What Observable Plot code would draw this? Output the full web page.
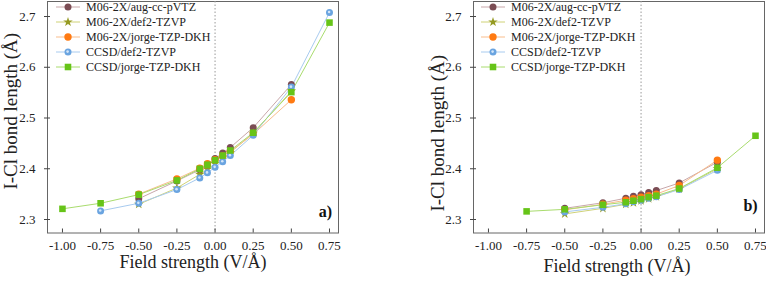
<!DOCTYPE html>
<html>
<head>
<meta charset="utf-8">
<script src="https://cdn.jsdelivr.net/npm/d3@7"></script>
<script src="https://cdn.jsdelivr.net/npm/@observablehq/plot@0.6"></script>
<style>
  body { margin: 0; background: #fff; }
  #wrap { position: relative; width: 766px; height: 281px; }
  #wrap svg { position: absolute; top: 0; }
  #wrap svg text { font-family: "Liberation Serif", "Times New Roman", serif !important; }
</style>
</head>
<body>
<div id="wrap"></div>
<script>
// Applied electric field (V/Å)
const fields = [-1, -0.75, -0.5, -0.25, -0.1, -0.05, 0, 0.05, 0.1, 0.25, 0.5, 0.75];

// Level of theory / basis set
const methods = ["M06-2X/aug-cc-pVTZ", "M06-2X/def2-TZVP", "M06-2X/jorge-TZP-DKH", "CCSD/def2-TZVP", "CCSD/jorge-TZP-DKH"];

// Axis ticks
const fieldTicks = [-1, -0.75, -0.5, -0.25, 0, 0.25, 0.5, 0.75];
const lengthTicks = [2.3, 2.4, 2.5, 2.6, 2.7];

// I-Cl bond length (Å), panel a), one value per field (null = not computed)
const aAugPVTZ   = [null, null, 2.341, 2.376, 2.398, 2.408, 2.420, 2.431, 2.442, 2.481, 2.566, null];
const aDef2M06   = [null, null, 2.330, 2.362, 2.389, 2.399, 2.410, 2.421, 2.432, 2.470, 2.553, null];
const aJorgeM06  = [null, null, 2.350, 2.380, 2.401, 2.410, 2.418, 2.425, 2.434, 2.468, 2.536, null];
const aDef2CCSD  = [null, 2.317, 2.332, 2.359, 2.382, 2.392, 2.403, 2.414, 2.426, 2.466, 2.561, 2.708];
const aJorgeCCSD = [2.321, 2.332, 2.349, 2.377, 2.400, 2.408, 2.417, 2.426, 2.436, 2.471, 2.551, 2.688];

// I-Cl bond length (Å), panel b)
const bAugPVTZ   = [null, null, 2.322, 2.333, 2.342, 2.346, 2.349, 2.353, 2.357, 2.372, 2.413, null];
const bDef2M06   = [null, null, 2.311, 2.322, 2.330, 2.333, 2.337, 2.341, 2.345, 2.360, 2.400, null];
const bJorgeM06  = [null, null, 2.319, 2.330, 2.338, 2.341, 2.344, 2.347, 2.350, 2.367, 2.417, null];
const bDef2CCSD  = [null, null, 2.315, 2.324, 2.331, 2.335, 2.338, 2.342, 2.345, 2.359, 2.397, null];
const bJorgeCCSD = [null, 2.316, 2.320, 2.329, 2.334, 2.337, 2.340, 2.344, 2.347, 2.361, 2.402, 2.465];

// Marker / line appearance per method
const looks = [
  {symbol: "circle", fill: "#7b4d54", line: "#c8a7aa", r: 3.5},
  {symbol: "star",   fill: "#959a22", line: "#cfd277", r: 3.0},
  {symbol: "circle", fill: "#ff7a12", line: "#f9bd8c", r: 3.7},
  {symbol: "circle", fill: "#6aa4e0", line: "#a8cbef", r: 3.5, glint: "#d3e5f8"},
  {symbol: "square", fill: "#66c418", line: "#a9dc6e", r: 3.7}
];

function toRows(columns) {
  const rows = [];
  columns.forEach((vals, k) => {
    vals.forEach((v, i) => {
      if (v != null) rows.push({method: methods[k], k, field: fields[i], length: v});
    });
  });
  return rows;
}

const panels = [
  {tag: "a)", left: 0, mL: 47, mR: 45, rows: toRows([aAugPVTZ, aDef2M06, aJorgeM06, aDef2CCSD, aJorgeCCSD]),
   yLab: {dx: -37, dy: -6}, xLab: {dx: 0, dy: 35}, tagPos: {dx: -13, dy: -16}, legendX: 56},
  {tag: "b)", left: 383, mL: 90, mR: 2, rows: toRows([bAugPVTZ, bDef2M06, bJorgeM06, bDef2CCSD, bJorgeCCSD]),
   yLab: {dx: -36, dy: 16}, xLab: {dx: -2, dy: 39}, tagPos: {dx: -14, dy: -22}, legendX: 481}
];

const wrap = document.getElementById("wrap");
const font = '"Liberation Serif", "Times New Roman", serif';

panels.forEach(p => {
  const marks = [
    Plot.frame({stroke: "#666", strokeWidth: 1}),
    Plot.ruleX([0], {stroke: "#9a9a9a", strokeDasharray: "1.5,2", strokeWidth: 1}),
    Plot.axisX({ticks: fieldTicks, tickFormat: d => d.toFixed(2), tickSize: -4, tickPadding: 12, fontSize: 13, fontFamily: font, label: null, stroke: "#444"}),
    Plot.axisY({ticks: lengthTicks, tickFormat: d => d.toFixed(1), tickSize: 3, tickPadding: 9, fontSize: 13, fontFamily: font, label: null, stroke: "#444"}),
    Plot.axisY({ticks: lengthTicks, tickFormat: () => "", tickSize: -3, label: null, stroke: "#444"})
  ];
  looks.forEach((lk, k) => {
    const rows = p.rows.filter(d => d.k === k);
    marks.push(Plot.line(rows, {x: "field", y: "length", stroke: lk.line, strokeWidth: 1}));
  });
  looks.forEach((lk, k) => {
    const rows = p.rows.filter(d => d.k === k);
    marks.push(Plot.dot(rows, {x: "field", y: "length", symbol: () => lk.symbol, fill: lk.fill, r: lk.r}));
    if (lk.glint) marks.push(Plot.dot(rows, {x: "field", y: "length", fill: lk.glint, r: 1.3, dx: -0.4, dy: -0.4}));
  });
  marks.push(
    Plot.text(["I-Cl bond length (Å)"], {frameAnchor: "left", rotate: -90, dx: p.yLab.dx, dy: p.yLab.dy, fontSize: 19, fontFamily: font, fill: "#222", textAnchor: "middle"}),
    Plot.text(["Field strength (V/Å)"], {frameAnchor: "bottom", dx: p.xLab.dx, dy: p.xLab.dy, fontSize: 18, fontFamily: font, fill: "#222", textAnchor: "middle"}),
    Plot.text([p.tag], {frameAnchor: "bottom-right", dx: p.tagPos.dx, dy: p.tagPos.dy, fontSize: 16, fontFamily: font, fontWeight: "bold", fill: "#111", textAnchor: "middle"})
  );
  const svg = Plot.plot({
    width: 383, height: 281,
    marginLeft: p.mL, marginRight: p.mR, marginTop: 1, marginBottom: 48.5,
    x: {domain: [-1.098, 0.809]},
    y: {domain: [2.2734, 2.7296]},
    style: {fontFamily: font, background: "transparent", color: "#222", overflow: "visible"},
    marks
  });
  svg.style.left = p.left + "px";
  wrap.appendChild(svg);
});

// Legends drawn on top of each panel
const over = d3.select(wrap).append("svg").attr("width", 766).attr("height", 281).style("left", "0px");
const symbolOf = {circle: d3.symbolCircle, star: d3.symbolStar, square: d3.symbolSquare};
panels.forEach(p => {
  const g = over.append("g").attr("transform", `translate(${p.legendX},0)`);
  methods.forEach((m, k) => {
    const lk = looks[k];
    const y = 7 + 15 * k;
    g.append("line").attr("x1", 0).attr("x2", 24).attr("y1", y).attr("y2", y).attr("stroke", lk.line).attr("stroke-width", 1);
    g.append("path").attr("d", d3.symbol(symbolOf[lk.symbol], Math.PI * lk.r * lk.r)()).attr("transform", `translate(12,${y})`).attr("fill", lk.fill);
    if (lk.glint) g.append("circle").attr("cx", 11.6).attr("cy", y - 0.4).attr("r", 1.3).attr("fill", lk.glint);
    g.append("text").attr("x", 30).attr("y", y).attr("dy", "0.35em").attr("font-family", font).attr("font-size", 12).attr("fill", "#222").text(m);
  });
});
</script>
</body>
</html>
